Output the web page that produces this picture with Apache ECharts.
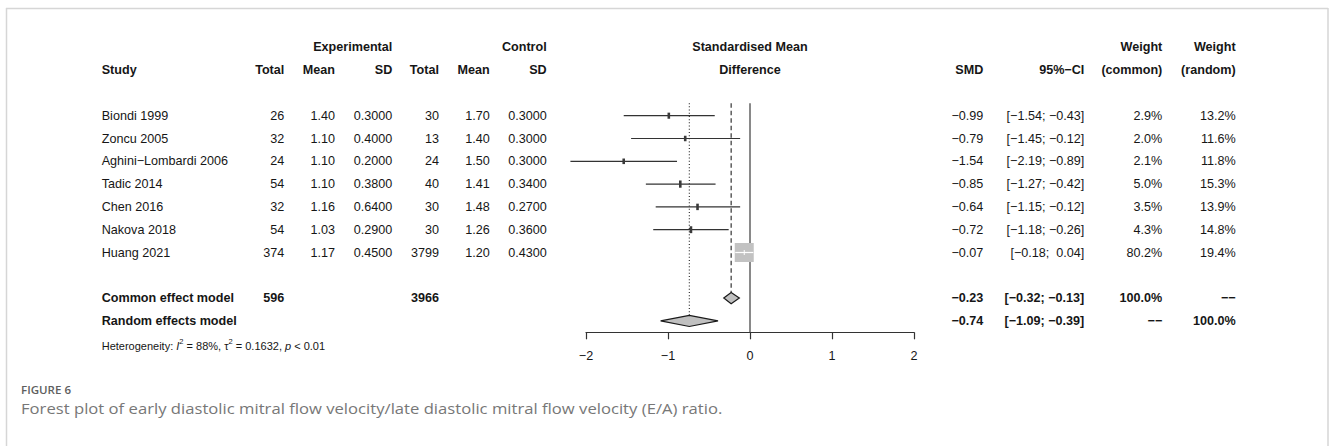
<!DOCTYPE html>
<html>
<head>
<meta charset="utf-8">
<script src="https://cdn.jsdelivr.net/npm/echarts@6/dist/echarts.min.js"></script>
<style>
html, body { margin: 0; padding: 0; background: #fff; }
#forest { width: 1330px; height: 446px; }
</style>
</head>
<body>
<div id="forest"></div>
<script>
// study level data
var studies = ['Biondi 1999', 'Zoncu 2005', 'Aghini\u2212Lombardi 2006', 'Tadic 2014', 'Chen 2016', 'Nakova 2018', 'Huang 2021'];
var expTotal = [26, 32, 24, 54, 32, 54, 374];
var expMean = [1.40, 1.10, 1.10, 1.10, 1.16, 1.03, 1.17];
var expSD = [0.30, 0.40, 0.20, 0.38, 0.64, 0.29, 0.45];
var ctrlTotal = [30, 13, 24, 40, 30, 30, 3799];
var ctrlMean = [1.70, 1.40, 1.50, 1.41, 1.48, 1.26, 1.20];
var ctrlSD = [0.30, 0.30, 0.30, 0.34, 0.27, 0.36, 0.43];
var smd = [-0.99, -0.79, -1.54, -0.85, -0.64, -0.72, -0.07];
var ciLow = [-1.54, -1.45, -2.19, -1.27, -1.15, -1.18, -0.18];
var ciHigh = [-0.43, -0.12, -0.89, -0.42, -0.12, -0.26, 0.04];
var wCommon = [2.9, 2.0, 2.1, 5.0, 3.5, 4.3, 80.2];
var wRandom = [13.2, 11.6, 11.8, 15.3, 13.9, 14.8, 19.4];

// pooled results: common, random
var pooledNames = ['Common effect model', 'Random effects model'];
var pooledEst = [-0.23, -0.74];
var pooledLow = [-0.32, -1.09];
var pooledHigh = [-0.13, -0.39];
var pooledExpTotal = [596, null];
var pooledCtrlTotal = [3966, null];
var pooledWCommon = ['100.0%', '\u2212\u2212'];
var pooledWRandom = ['\u2212\u2212', '100.0%'];

var xTicks = [-2, -1, 0, 1, 2];

var FONT = 'Liberation Sans, Arial, Helvetica, sans-serif';
var FS = 12.6;
var INK = '#161616';

// column layout (px)
var colX = { study: 101.7, eT: 284.3, eM: 335, eS: 392.3, cT: 439, cM: 489.7, cS: 546.7, plot: 750, smd: 983.3, ci: 1084.3, wc: 1162.3, wr: 1235.7 };

function fmt(v, d) {
    return (v < 0 ? '\u2212' : '') + Math.abs(v).toFixed(d);
}
function fmtCI(lo, hi) {
    return '[' + fmt(lo, 2) + '; ' + (hi >= 0 ? ' ' : '') + fmt(hi, 2) + ']';
}

// table cells
var cells = [];
function cell(col, row, text, bold) {
    cells.push({ col: col, row: row, text: text, bold: !!bold });
}
cell('eS', -3, 'Experimental', true);
cell('cS', -3, 'Control', true);
cell('plot', -3, 'Standardised Mean', true);
cell('wc', -3, 'Weight', true);
cell('wr', -3, 'Weight', true);
cell('study', -2, 'Study', true);
cell('eT', -2, 'Total', true);
cell('eM', -2, 'Mean', true);
cell('eS', -2, 'SD', true);
cell('cT', -2, 'Total', true);
cell('cM', -2, 'Mean', true);
cell('cS', -2, 'SD', true);
cell('plot', -2, 'Difference', true);
cell('smd', -2, 'SMD', true);
cell('ci', -2, '95%\u2212CI', true);
cell('wc', -2, '(common)', true);
cell('wr', -2, '(random)', true);
for (var i = 0; i < studies.length; i++) {
    cell('study', i, studies[i]);
    cell('eT', i, String(expTotal[i]));
    cell('eM', i, expMean[i].toFixed(2));
    cell('eS', i, expSD[i].toFixed(4));
    cell('cT', i, String(ctrlTotal[i]));
    cell('cM', i, ctrlMean[i].toFixed(2));
    cell('cS', i, ctrlSD[i].toFixed(4));
    cell('smd', i, fmt(smd[i], 2));
    cell('ci', i, fmtCI(ciLow[i], ciHigh[i]));
    cell('wc', i, wCommon[i].toFixed(1) + '%');
    cell('wr', i, wRandom[i].toFixed(1) + '%');
}
for (var k = 0; k < 2; k++) {
    var r = studies.length + 1 + k;
    cell('study', r, pooledNames[k], true);
    if (pooledExpTotal[k] != null) cell('eT', r, String(pooledExpTotal[k]), true);
    if (pooledCtrlTotal[k] != null) cell('cT', r, String(pooledCtrlTotal[k]), true);
    cell('smd', r, fmt(pooledEst[k], 2), true);
    cell('ci', r, fmtCI(pooledLow[k], pooledHigh[k]), true);
    cell('wc', r, pooledWCommon[k], true);
    cell('wr', r, pooledWRandom[k], true);
}

var chart = echarts.init(document.getElementById('forest'), null, { renderer: 'svg' });

var maxW = Math.max.apply(null, wCommon);
var BIG = 19;

var studyData = studies.map(function (s, i) {
    return [smd[i], i, ciLow[i], ciHigh[i], wCommon[i]];
});
var pooledRowStart = studies.length + 1;
var diamondData = pooledEst.map(function (e, k) {
    return [e, pooledRowStart + k, pooledLow[k], pooledHigh[k]];
});
// reference lines: x, from row, to row, style
var refData = [
    [0, -0.55, 9.5, 0],
    [pooledEst[0], -0.55, pooledRowStart - 0.25, 1],
    [pooledEst[1], -0.55, pooledRowStart + 1 - 0.25, 2]
];

var option = {
    backgroundColor: '#fff',
    animation: false,
    grid: { left: 586, right: 416, top: 47.3, bottom: 113.7 },
    xAxis: {
        type: 'value', min: -2, max: 2, interval: 1,
        axisLine: { show: true, onZero: false, lineStyle: { color: '#333', width: 1.2 } },
        axisTick: { show: true, length: 7, lineStyle: { color: '#333', width: 1.2 } },
        axisLabel: {
            margin: 17, fontSize: FS, fontFamily: FONT, color: INK,
            formatter: function (v) { return xTicks.indexOf(v) >= 0 ? fmt(v, 0) : ''; }
        },
        splitLine: { show: false }
    },
    yAxis: { type: 'value', inverse: true, min: -3, max: 9.5, show: false },
    graphic: [
        { type: 'line', shape: { x1: 6, y1: 8.5, x2: 1328, y2: 8.5 }, style: { stroke: '#d6d6d6', lineWidth: 1.5 } },
        { type: 'line', shape: { x1: 6.5, y1: 8, x2: 6.5, y2: 446 }, style: { stroke: '#d6d6d6', lineWidth: 1.5 } },
        { type: 'line', shape: { x1: 1328, y1: 8, x2: 1328, y2: 446 }, style: { stroke: '#d6d6d6', lineWidth: 1.5 } },
        { type: 'text', x: 21, y: 384, scaleX: 1.05, style: { text: 'FIGURE 6', font: '600 11px "Open Sans", sans-serif', fill: '#5e5e5e' } },
        { type: 'text', x: 21, y: 402, scaleX: 1.19, style: { text: 'Forest plot of early diastolic mitral flow velocity/late diastolic mitral flow velocity (E/A) ratio.', font: '14px "Open Sans", sans-serif', fill: '#777' } }
    ],
    series: [
        {
            type: 'custom', name: 'ref', clip: false, silent: true,
            data: refData,
            renderItem: function (params, api) {
                var a = api.coord([api.value(0), api.value(1)]);
                var b = api.coord([api.value(0), api.value(2)]);
                var st = api.value(3);
                var dash = st === 1 ? [4.5, 3] : (st === 2 ? [1, 2.2] : null);
                return {
                    type: 'line',
                    shape: { x1: a[0], y1: a[1], x2: b[0], y2: b[1] },
                    style: { stroke: st === 0 ? '#4a4a4a' : '#222', lineWidth: st === 0 ? 1.3 : 1.1, lineDash: dash }
                };
            }
        },
        {
            type: 'custom', name: 'studies', clip: false, silent: true,
            data: studyData,
            renderItem: function (params, api) {
                var p = api.coord([api.value(0), api.value(1)]);
                var lo = api.coord([api.value(2), api.value(1)]);
                var hi = api.coord([api.value(3), api.value(1)]);
                var size = BIG * Math.sqrt(api.value(4) / maxW);
                var inside = lo[0] >= p[0] - size / 2 && hi[0] <= p[0] + size / 2;
                var kids = [];
                if (inside) {
                    kids.push({ type: 'rect', shape: { x: p[0] - size / 2, y: p[1] - size / 2, width: size, height: size }, style: { fill: '#c2c2c2' } });
                    kids.push({ type: 'line', shape: { x1: lo[0], y1: p[1], x2: hi[0], y2: p[1] }, style: { stroke: '#fff', lineWidth: 1.2 } });
                    kids.push({ type: 'line', shape: { x1: p[0], y1: p[1] - 2.5, x2: p[0], y2: p[1] + 2.5 }, style: { stroke: '#fff', lineWidth: 1 } });
                } else {
                    kids.push({ type: 'line', shape: { x1: lo[0], y1: p[1], x2: hi[0], y2: p[1] }, style: { stroke: '#333', lineWidth: 1.2 } });
                    var h = size + 2.5;
                    kids.push({ type: 'rect', shape: { x: p[0] - 1.3, y: p[1] - h / 2, width: 2.6, height: h }, style: { fill: '#3a3a3a' } });
                }
                return { type: 'group', children: kids };
            }
        },
        {
            type: 'custom', name: 'pooled', clip: false, silent: true,
            data: diamondData,
            renderItem: function (params, api) {
                var p = api.coord([api.value(0), api.value(1)]);
                var lo = api.coord([api.value(2), api.value(1)]);
                var hi = api.coord([api.value(3), api.value(1)]);
                var h = 5.6;
                return {
                    type: 'polygon',
                    shape: { points: [[lo[0], p[1]], [p[0], p[1] - h], [hi[0], p[1]], [p[0], p[1] + h]] },
                    style: { fill: '#c0c0c0', stroke: '#1a1a1a', lineWidth: 1.2 }
                };
            }
        },
        {
            type: 'custom', name: 'table', clip: false, silent: true,
            data: cells.map(function (c) { return [0, c.row]; }),
            renderItem: function (params, api) {
                var c = cells[params.dataIndex];
                var y = api.coord([0, api.value(1)])[1];
                var align = c.col === 'study' ? 'left' : (c.col === 'plot' ? 'center' : 'right');
                return {
                    type: 'text',
                    style: {
                        x: colX[c.col], y: y, text: c.text, align: align, verticalAlign: 'middle',
                        font: (c.bold ? 'bold ' : '') + FS + 'px ' + FONT, fill: INK
                    }
                };
            }
        },
        {
            type: 'custom', name: 'het', clip: false, silent: true,
            data: [[0, 10.05]],
            renderItem: function (params, api) {
                var y = api.coord([0, api.value(1)])[1];
                return {
                    type: 'text',
                    style: {
                        x: colX.study, y: y, verticalAlign: 'middle', align: 'left',
                        text: '{n|Heterogeneity: }{i|I}{s|2}{n| = 88%, \u03c4}{s|2}{n| = 0.1632, }{i|p}{n| < 0.01}',
                        fill: INK,
                        rich: {
                            n: { fontSize: 11, fontFamily: FONT, lineHeight: 14, verticalAlign: 'bottom' },
                            i: { fontSize: 11, fontFamily: FONT, fontStyle: 'italic', lineHeight: 14, verticalAlign: 'bottom' },
                            s: { fontSize: 7.5, fontFamily: FONT, lineHeight: 14, verticalAlign: 'top' }
                        }
                    }
                };
            }
        }
    ]
};
chart.setOption(option);
</script>
</body>
</html>
